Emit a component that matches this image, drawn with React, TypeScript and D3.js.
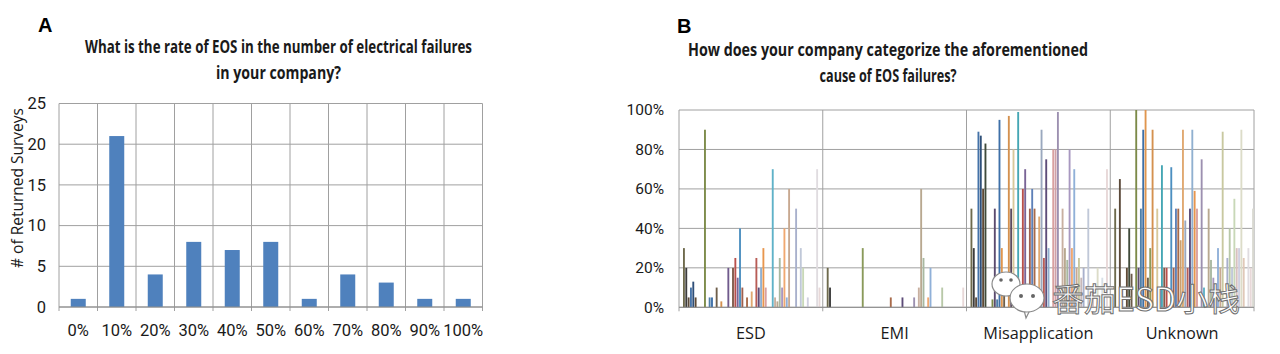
import { useEffect, useRef } from "react";
import * as d3 from "d3";

// Panel A: survey counts per EOS rate
const rateLabels = ["0%", "10%", "20%", "30%", "40%", "50%", "60%", "70%", "80%", "90%", "100%"];
const rateCounts = [1, 21, 4, 8, 7, 8, 1, 4, 3, 1, 1];

// Panel B: each respondent's share (%) for each cause category
const causeCategories = ["ESD", "EMI", "Misapplication", "Unknown"];
const esdShares = [
  30, 20, 5, 10, 13, 5, 0, 0, 0, 90, 0, 5, 5, 0, 10, 0, 3, 0, 0, 20,
  0, 20, 25, 15, 40, 10, 0, 5, 0, 8, 0, 25, 10, 20, 30, 10, 0, 0, 70, 5,
  3, 25, 10, 40, 5, 60, 0, 0, 50, 0, 30, 20, 0, 5, 0, 0, 0, 70, 10, 0,
];
const emiShares = [
  20, 10, 0, 0, 0, 0, 0, 0, 0, 0, 0, 0, 0, 0, 0, 30, 0, 0, 0, 0,
  0, 0, 0, 0, 0, 0, 0, 5, 0, 0, 0, 0, 5, 0, 0, 0, 0, 5, 0, 10,
  60, 25, 0, 5, 20, 0, 0, 0, 0, 10, 0, 0, 0, 0, 0, 0, 0, 0, 10, 0,
];
const misapplicationShares = [
  50, 30, 5, 89, 87, 60, 83, 0, 0, 4, 50, 4, 95, 30, 17, 0, 97, 50, 80, 0,
  99, 0, 60, 70, 0, 50, 60, 50, 0, 46, 90, 25, 75, 30, 0, 80, 80, 99, 0, 50,
  30, 24, 80, 30, 70, 20, 25, 15, 20, 0, 50, 0, 10, 0, 20, 0, 15, 0, 70, 0,
];
const unknownShares = [
  50, 0, 65, 10, 0, 20, 40, 17, 0, 100, 20, 50, 90, 100, 15, 30, 90, 0, 50, 10,
  72, 20, 20, 0, 71, 20, 50, 50, 34, 90, 44, 20, 50, 90, 59, 50, 0, 75, 10, 0,
  50, 24, 15, 0, 30, 20, 89, 0, 25, 40, 20, 55, 30, 30, 90, 25, 0, 30, 20, 50,
];
const causeShares = [esdShares, emiShares, misapplicationShares, unknownShares];

const seriesColors = [
  "#6E6A4C", "#3C3C3C", "#5B4A3A", "#4472A8", "#2F4F78", "#5E4A36", "#3F4A3A", "#6A5A48", "#4F4466", "#7C8A48",
  "#5A4A6E", "#4F7FA8", "#3E70A8", "#E0964E", "#6E5E4A", "#8A9A5A", "#D4914F", "#5B4A5E", "#D8C89A", "#705A8C",
  "#45A6B4", "#7E5A4A", "#B8504C", "#7A6496", "#4C8FC0", "#A0604E", "#5E80B8", "#A86A4A", "#C8A070", "#E0A870",
  "#9AA8BE", "#B85C56", "#5C4C78", "#90B0D0", "#E8964E", "#D8A0A0", "#D0A0A8", "#9C90B0", "#5FB2C8", "#C8B0A0",
  "#B8A890", "#A8B8A0", "#A898C0", "#F0A870", "#90B0D8", "#C8A890", "#C8C8A0", "#C8B8B8", "#A8B0CC", "#B8C8A8",
  "#C0C8D8", "#C8D8B8", "#D8C0C0", "#D0D0E0", "#DCDCC8", "#E0C8B8", "#D8E0E8", "#E0DCE0", "#E8D8D8", "#D8D8D0",
];

const narrow = "'Liberation Sans Narrow', 'Arial Narrow', Roboto, sans-serif";
const regular = "'Open Sans', 'Noto Sans', sans-serif";
const boldFont = "'Open Sans', 'Noto Sans', sans-serif";
const gridColor = "#A0A0A0";
const textColor = "#1a1a1a";

type G = d3.Selection<SVGGElement, unknown, null, undefined>;

function title(g: G, lines: string[], cx: number, y0: number, widths: number[]) {
  lines.forEach((line, i) => {
    g.append("text")
      .attr("x", cx)
      .attr("y", y0 + i * 26)
      .attr("text-anchor", "middle")
      .attr("font-family", boldFont)
      .attr("font-weight", "bold")
      .attr("font-size", 18.5)
      .attr("fill", textColor)
      .attr("textLength", widths[i])
      .attr("lengthAdjust", "spacingAndGlyphs")
      .text(line);
  });
}

function drawRateChart(g: G) {
  const left = 59, right = 482.5, top = 103.5, bottom = 307;
  const x = d3.scaleBand<string>().domain(rateLabels).range([left, right]);
  const y = d3.scaleLinear().domain([0, 25]).range([bottom, top]);

  g.append("text")
    .attr("x", 38).attr("y", 32)
    .attr("font-family", "'Liberation Sans', Arial, sans-serif")
    .attr("font-weight", "bold").attr("font-size", 20)
    .attr("fill", "#000").text("A");

  title(g, ["What is the rate of EOS in the number of electrical failures", "in your company?"],
    278.5, 53, [387, 125]);

  // horizontal grid
  g.selectAll("line.hgrid")
    .data(y.ticks(5))
    .join("line")
    .attr("x1", left).attr("x2", right)
    .attr("y1", (d) => y(d)).attr("y2", (d) => y(d))
    .attr("stroke", gridColor);

  // vertical grid at category boundaries, extending as ticks below the axis
  const edges = [left, ...rateLabels.map((l) => (x(l) ?? 0) + x.bandwidth())];
  g.selectAll("line.vgrid")
    .data(edges)
    .join("line")
    .attr("x1", (d) => d).attr("x2", (d) => d)
    .attr("y1", top).attr("y2", bottom + 4)
    .attr("stroke", gridColor);

  const barW = 15;
  g.selectAll("rect.bar")
    .data(rateCounts)
    .join("rect")
    .attr("x", (_, i) => (x(rateLabels[i]) ?? 0) + (x.bandwidth() - barW) / 2)
    .attr("width", barW)
    .attr("y", (d) => y(d))
    .attr("height", (d) => bottom - y(d))
    .attr("fill", "#4F81BD");

  g.append("line")
    .attr("x1", left).attr("x2", right)
    .attr("y1", bottom).attr("y2", bottom)
    .attr("stroke", "#8C8C8C");

  g.selectAll("text.ytick")
    .data(y.ticks(5))
    .join("text")
    .attr("x", 46).attr("y", (d) => y(d))
    .attr("dy", "0.35em")
    .attr("text-anchor", "end")
    .attr("font-family", narrow).attr("font-size", 16.5)
    .attr("fill", textColor)
    .text((d) => d);

  g.selectAll("text.xtick")
    .data(rateLabels)
    .join("text")
    .attr("x", (d) => (x(d) ?? 0) + x.bandwidth() / 2)
    .attr("y", 336)
    .attr("text-anchor", "middle")
    .attr("font-family", narrow).attr("font-size", 16.5)
    .attr("fill", textColor)
    .text((d) => d);

  g.append("text")
    .attr("transform", "translate(23,188) rotate(-90)")
    .attr("text-anchor", "middle")
    .attr("font-family", regular).attr("font-size", 15.5)
    .attr("fill", textColor)
    .text("# of Returned Surveys");
}

function drawCauseChart(g: G) {
  const left = 679, right = 1254, top = 110, bottom = 307.3;
  const x = d3.scaleBand<string>().domain(causeCategories).range([left, right]);
  const y = d3.scaleLinear().domain([0, 100]).range([bottom, top]);
  const seriesIdx = seriesColors.map((_, i) => i);
  const sx = d3.scaleBand<number>().domain(seriesIdx).range([4, x.bandwidth()]).paddingInner(0.2);

  g.append("text")
    .attr("x", 677).attr("y", 33)
    .attr("font-family", "'Liberation Sans', Arial, sans-serif")
    .attr("font-weight", "bold").attr("font-size", 20)
    .attr("fill", "#000").text("B");

  title(g, ["How does your company categorize the aforementioned", "cause of EOS failures?"],
    888, 56, [400, 137]);

  g.selectAll("line.hgrid")
    .data(y.ticks(5))
    .join("line")
    .attr("x1", left).attr("x2", right)
    .attr("y1", (d) => y(d)).attr("y2", (d) => y(d))
    .attr("stroke", gridColor);

  const edges = [left, ...causeCategories.map((c) => (x(c) ?? 0) + x.bandwidth())];
  g.selectAll("line.vgrid")
    .data(edges)
    .join("line")
    .attr("x1", (d) => d).attr("x2", (d) => d)
    .attr("y1", top).attr("y2", bottom + 4)
    .attr("stroke", gridColor);

  causeCategories.forEach((cat, ci) => {
    const x0 = x(cat) ?? 0;
    const vals = causeShares[ci];
    g.append("g")
      .selectAll("rect")
      .data(vals.map((v, i) => ({ v, i })).filter((d) => d.v > 0))
      .join("rect")
      .attr("x", (d) => x0 + (sx(d.i) ?? 0))
      .attr("width", sx.bandwidth())
      .attr("y", (d) => y(d.v))
      .attr("height", (d) => bottom - y(d.v))
      .attr("fill", (d) => seriesColors[d.i]);
  });

  g.append("line")
    .attr("x1", left).attr("x2", right)
    .attr("y1", bottom).attr("y2", bottom)
    .attr("stroke", "#8C8C8C");

  g.selectAll("text.ytick")
    .data(y.ticks(5))
    .join("text")
    .attr("x", 664).attr("y", (d) => y(d))
    .attr("dy", "0.35em")
    .attr("text-anchor", "end")
    .attr("font-family", narrow).attr("font-size", 15.5)
    .attr("fill", textColor)
    .text((d) => `${d}%`);

  g.selectAll("text.xtick")
    .data(causeCategories)
    .join("text")
    .attr("x", (d) => (x(d) ?? 0) + x.bandwidth() / 2)
    .attr("y", 339)
    .attr("text-anchor", "middle")
    .attr("font-family", regular).attr("font-size", 16.3)
    .attr("fill", textColor)
    .text((d) => d);
}

function drawWatermark(g: G) {
  const stroke = "#8a8a8a";
  // chat bubbles icon
  g.append("ellipse").attr("cx", 1006).attr("cy", 284).attr("rx", 14).attr("ry", 12)
    .attr("fill", "#fff").attr("stroke", stroke).attr("stroke-width", 1.2);
  g.append("circle").attr("cx", 1001).attr("cy", 280).attr("r", 1.8).attr("fill", "#666");
  g.append("circle").attr("cx", 1011).attr("cy", 280).attr("r", 1.8).attr("fill", "#666");
  g.append("path").attr("d", "M1024,310 L1026,318 L1031,308")
    .attr("fill", "#fff").attr("stroke", stroke).attr("stroke-width", 1.2);
  g.append("ellipse").attr("cx", 1027).attr("cy", 298).attr("rx", 17).attr("ry", 14)
    .attr("fill", "#fff").attr("stroke", stroke).attr("stroke-width", 1.2);
  g.append("circle").attr("cx", 1021).attr("cy", 296).attr("r", 2).attr("fill", "#666");
  g.append("circle").attr("cx", 1033).attr("cy", 296).attr("r", 2).attr("fill", "#666");

  g.append("text")
    .attr("x", 1052).attr("y", 311)
    .attr("font-family", "'Noto Sans CJK SC', sans-serif")
    .attr("font-size", 32)
    .attr("fill", "#fff")
    .attr("stroke", "#707070")
    .attr("stroke-width", 1)
    .attr("textLength", 188)
    .attr("lengthAdjust", "spacingAndGlyphs")
    .text("番茄ESD小栈");
}

export default function App() {
  const svgRef = useRef<SVGSVGElement>(null);

  useEffect(() => {
    if (!svgRef.current) return;
    const svg = d3.select(svgRef.current);
    svg.selectAll("*").remove();
    drawRateChart(svg.append("g"));
    drawCauseChart(svg.append("g"));
    drawWatermark(svg.append("g"));
  }, []);

  return (
    <svg
      ref={svgRef}
      width={1280}
      height={354}
      style={{ position: "absolute", left: 0, top: 0, background: "#fff" }}
    />
  );
}
